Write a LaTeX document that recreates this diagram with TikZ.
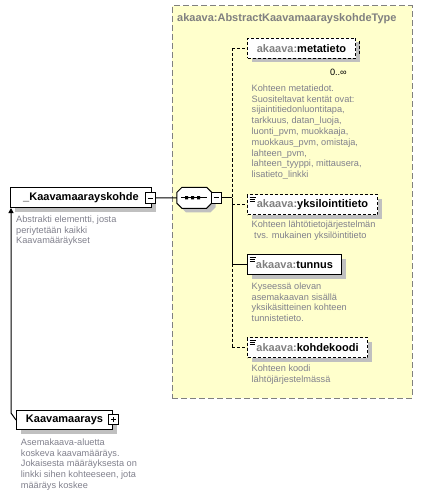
\documentclass[tikz,border=0pt]{standalone}
\usepackage{fontspec}
\setmainfont{Liberation Sans}
\usetikzlibrary{shadows,arrows.meta}
\definecolor{ylw}{RGB}{255,255,204}
\definecolor{bord}{RGB}{128,128,128}
\definecolor{desc}{RGB}{128,128,140}
\definecolor{pfx}{RGB}{128,128,128}
\definecolor{shd}{RGB}{192,192,192}
\tikzset{
  elbox/.style={draw=black, line width=1pt, fill=white, inner sep=0pt, anchor=north west,
    minimum height=20pt, font=\fontsize{11}{13}\selectfont\bfseries,
    drop shadow={shadow xshift=4pt, shadow yshift=-4pt, fill=shd, opacity=1}},
  optbox/.style={elbox, dash pattern=on 3pt off 2pt},
  simpleicon/.style={path picture={
    \draw[line width=0.8pt,solid] ([shift={(2pt,-2.5pt)}]path picture bounding box.north west) -- ++(6pt,0pt)
      ([shift={(2pt,-4.5pt)}]path picture bounding box.north west) -- ++(5pt,0pt)
      ([shift={(2pt,-6.5pt)}]path picture bounding box.north west) -- ++(5pt,0pt);}},
  desctext/.style={anchor=north west, inner sep=0pt, align=left, text=desc,
    font=\fontsize{9.2}{10.8}\selectfont},
  togglebox/.style={draw=black, fill=white, line width=1pt, inner sep=0pt,
    minimum width=9.5pt, minimum height=10.5pt},
  minus/.style={togglebox, path picture={
    \draw[line width=1pt] ([xshift=2pt]path picture bounding box.west) -- ([xshift=-2pt]path picture bounding box.east);}},
  plus/.style={togglebox, path picture={
    \draw[line width=1pt] ([xshift=2pt]path picture bounding box.west) -- ([xshift=-2pt]path picture bounding box.east)
      ([yshift=2pt]path picture bounding box.south) -- ([yshift=-2pt]path picture bounding box.north);}},
  conn/.style={draw=black, line width=1pt},
  optconn/.style={draw=black, line width=1pt, dash pattern=on 3pt off 2pt},
}
\begin{document}
\begin{tikzpicture}[x=1pt,y=-1pt]
\useasboundingbox (0,0) rectangle (434,497);
% complex type area
\node[draw=bord, dash pattern=on 6pt off 3pt, line width=1pt, fill=ylw, anchor=north west,
  minimum width=240pt, minimum height=392pt, inner sep=0pt] (type) at (171.5,5.5) {};
\node[anchor=west, inner sep=0pt, text=pfx, font=\fontsize{11}{13}\selectfont\bfseries] (title)
  at (177,19) {akaava:AbstractKaavamaarayskohdeType};

% main element
\node[elbox, minimum width=141pt] (kk) at (10,187) {\_Kaavamaarayskohde};
\node[minus] (km) at (150.5,198) {};
\node[desctext] (kkd) at (16,215.5) {Abstrakti elementti, josta\\periytetään kaikki\\Kaavamääräykset};

% sequence compositor
\fill[shd, shift={(198.3,201.8)}] (-12.35,-10.5) -- (12.35,-10.5) -- (17.35,-5.5) -- (17.35,5.5)
  -- (12.35,10.5) -- (-12.35,10.5) -- (-17.35,5.5) -- (-17.35,-5.5) -- cycle;
\draw[line width=1pt, fill=white, shift={(194.3,197.8)}] (-12.35,-10.5) -- (12.35,-10.5) -- (17.35,-5.5) -- (17.35,5.5)
  -- (12.35,10.5) -- (-12.35,10.5) -- (-17.35,5.5) -- (-17.35,-5.5) -- cycle;
\node[minimum width=34.7pt, minimum height=21pt, inner sep=0pt] (seq) at (194.3,197.8) {};
\draw[line width=1pt] ([xshift=4.7pt]seq.west) -- ([xshift=-5pt]seq.east);
\fill[shift={(192.7,197.8)}] (-7.5,-1.6) rectangle (-4.5,1.6) (-1.5,-1.6) rectangle (1.5,1.6) (4.5,-1.6) rectangle (7.5,1.6);
\node[minus] (sm) at (216.7,197.8) {};
\draw[conn] (km.east) -- (seq.west);
\coordinate (bus) at (232,197.8);
\draw[conn] (sm.east) -- (bus);

% children
\node[optbox, minimum width=108pt] (meta) at (247,38) {\textcolor{pfx}{akaava:}metatieto};
\draw[black, line width=1pt, dash pattern=on 3pt off 2pt] ([shift={(3,3)}]meta.north east) -- ([shift={(3,-4)}]meta.south east);
\node[anchor=east, inner sep=0pt, font=\fontsize{9.2}{10}\selectfont] (mult) at (347,72) {0..∞};
\node[desctext] (metad) at (251.5,84.5) {Kohteen metatiedot.\\Suositeltavat kentät ovat:\\sijaintitiedonluontitapa,\\tarkkuus, datan\_luoja,\\luonti\_pvm, muokkaaja,\\muokkaus\_pvm, omistaja,\\lahteen\_pvm,\\lahteen\_tyyppi, mittausera,\\lisatieto\_linkki};

\node[optbox, simpleicon, minimum width=130pt] (yk) at (247,194) {\textcolor{pfx}{akaava:}yksilointitieto};
\node[desctext] (ykd) at (251.5,220.5) {Kohteen lähtötietojärjestelmän\\\hspace*{2.5pt}tvs. mukainen yksilöintitieto};

\node[elbox, simpleicon, minimum width=94pt] (tu) at (247,254) {\textcolor{pfx}{akaava:}tunnus};
\node[desctext] (tud) at (251.5,282.5) {Kyseessä olevan\\asemakaavan sisällä\\yksikäsitteinen kohteen\\tunnistetieto.};

\node[optbox, simpleicon, minimum width=120pt] (ko) at (247,337) {\textcolor{pfx}{akaava:}kohdekoodi};
\node[desctext] (kod) at (251.5,364.5) {Kohteen koodi\\lähtöjärjestelmässä};

\draw[optconn] (bus |- meta.west) -- (bus |- ko.west);
\draw[conn] (bus) -- (bus |- tu.west);
\draw[optconn] (bus |- meta.west) -- (meta.west);
\draw[optconn] (bus |- yk.west) -- (yk.west);
\draw[conn] (bus |- tu.west) -- (tu.west);
\draw[optconn] (bus |- ko.west) -- (ko.west);

% substitution element
\node[elbox, minimum width=96pt, minimum height=19pt] (ka) at (16,410) {Kaavamaarays};
\node[plus, minimum width=9.5pt, minimum height=9.5pt] (kp) at (113.7,419.5) {};
\node[desctext] (kad) at (20.7,438.5) {Asemakaava-aluetta\\koskeva kaavamääräys.\\Jokaisesta määräyksesta on\\linkki sihen kohteeseen, jota\\määräys koskee};
\coordinate (abend) at (11,413);
\draw[conn, -{Triangle[length=5pt,width=5pt]}] (ka.west) -- (abend) -- (abend |- kk.south);
\end{tikzpicture}
\end{document}
